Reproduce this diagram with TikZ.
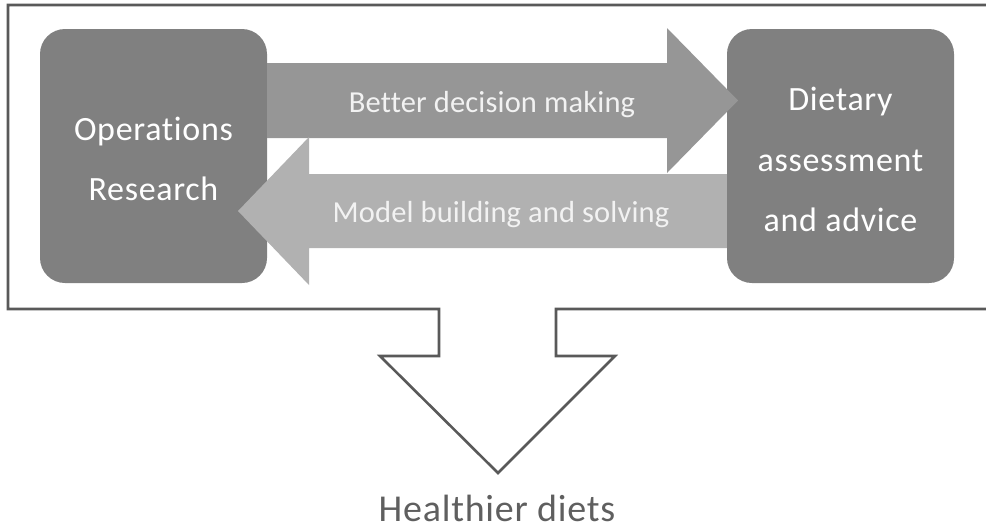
\documentclass[tikz,border=0pt]{standalone}
\usepackage{fontspec}
\setmainfont{Carlito}[Ligatures=NoCommon]
\definecolor{boxgray}{HTML}{808080}
\definecolor{upgray}{HTML}{969696}
\definecolor{lowgray}{HTML}{B1B1B1}
\definecolor{framegray}{HTML}{595959}
\definecolor{txtgray}{HTML}{5F5F5F}
\begin{document}
\begin{tikzpicture}[x=1pt,y=-1pt,
  boxnode/.style={fill=boxgray, rounded corners=25pt, minimum width=227pt, minimum height=254pt,
    inner sep=0pt},
  boxtext/.style={text=white, align=center, inner sep=0pt,
    font=\fontsize{34}{60.5}\selectfont\addfontfeatures{LetterSpace=2}},
  arrowtext/.style={anchor=base, text=white!95!black, inner sep=0pt,
    font=\fontsize{30.5}{36}\selectfont\addfontfeatures{LetterSpace=0.5}},
  framepath/.style={draw=framegray, line width=2.6pt, line join=miter}]
\useasboundingbox (0,0) rectangle (986,531);
% outer frame with down arrow
\draw[framepath] (995,5) -- (8,5) -- (8,309) -- (439,309) -- (439,356) -- (380,356)
  -- (498,473) -- (615,356) -- (556,356) -- (556,309) -- (995,309);
% boxes
\node[boxnode] (OR) at (153.5,156) {};
\node[boxnode] (DA) at (840.5,156) {};
\node[boxtext] (ORt) at ([yshift=-3pt]OR.center) {Operations\\Research};
\node[boxtext] (DAt) at ([yshift=-3.5pt]DA.center) {Dietary\\assessment\\and advice};
% upper arrow (to the right)
\fill[upgray] (OR.east |- 0,63) -- (667,63) -- (667,28) -- (738,100.5) -- (667,173) -- (667,138) -- (OR.east |- 0,138) -- cycle;
% lower arrow (to the left)
\fill[lowgray] (DA.west |- 0,174) -- (309,174) -- (309,137) -- (238,211) -- (309,285) -- (309,248) -- (DA.west |- 0,248) -- cycle;
\node[arrowtext] (bdm) at (492,112) {Better decision making};
\node[arrowtext] (mbs) at (501,222) {Model building and solving};
% result
\node[anchor=base, text=txtgray, inner sep=0pt,
  font=\fontsize{38}{40}\selectfont\addfontfeatures{LetterSpace=2}] (hd) at (497,521) {Healthier diets};
\end{tikzpicture}
\end{document}
